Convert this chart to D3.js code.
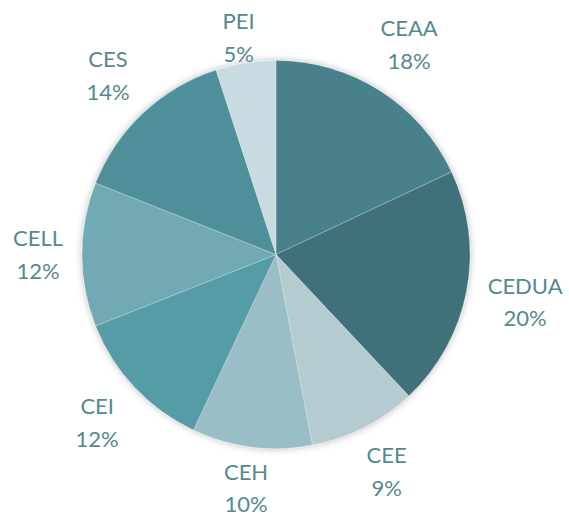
<!DOCTYPE html>
<html>
<head>
<meta charset="utf-8">
<script src="https://cdn.jsdelivr.net/npm/d3@7"></script>
<style>
  html, body { margin: 0; padding: 0; background: #fff; }
  svg { display: block; }
</style>
</head>
<body>
<svg id="chart" width="569" height="519"></svg>
<script>
const categories = ["CEAA", "CEDUA", "CEE", "CEH", "CEI", "CELL", "CES", "PEI"];
const values = [18, 20, 9, 10, 12, 12, 14, 5];
const colors = ["#48818b", "#3f707a", "#b4cbd0", "#9abec5", "#569ca7", "#71aab5", "#4f8f99", "#c8dbe0"];

const W = 569, H = 519;
const cx = 276, cy = 254.5, R = 194;
const labelGap = 19;
const lineH = 32.5;
const capH = 16;
const textColor = "#54898f";

const svg = d3.select("#chart");
const defs = svg.append("defs");
const f = defs.append("filter").attr("id", "sh").attr("x", "-20%").attr("y", "-20%").attr("width", "140%").attr("height", "140%");
f.append("feDropShadow").attr("dx", 0).attr("dy", 0).attr("stdDeviation", 3.5)
  .attr("flood-color", "#000").attr("flood-opacity", 0.28);

const data = categories.map((c, i) => ({ name: c, value: values[i], color: colors[i] }));
const total = d3.sum(values);
const pie = d3.pie().value(d => d.value).sort(null);
const arcs = pie(data);
const arc = d3.arc().innerRadius(0).outerRadius(R);

const g = svg.append("g").attr("transform", `translate(${cx},${cy})`);
g.append("g").attr("filter", "url(#sh)")
  .selectAll("path").data(arcs).join("path")
  .attr("d", arc)
  .attr("fill", d => d.data.color)
  .attr("stroke", "#ffffff")
  .attr("stroke-width", 0.4)
  .attr("stroke-opacity", 0.6);

const lg = svg.append("g")
  .attr("font-family", "Lato, 'Open Sans', sans-serif")
  .attr("font-size", 22)
  .attr("fill", textColor)
  .attr("text-anchor", "middle");

arcs.forEach(a => {
  const t = lg.append("text");
  const t1 = t.append("tspan").text(a.data.name);
  const t2 = t.append("tspan").text(Math.round(a.data.value / total * 100) + "%");
  const w = Math.max(t1.node().getComputedTextLength(), t2.node().getComputedTextLength()) / 2;
  const h = (capH + lineH) / 2;
  const mid = (a.startAngle + a.endAngle) / 2;
  const ux = Math.sin(mid), uy = -Math.cos(mid);
  const nearest = s => {
    const px = Math.abs(ux * s), py = Math.abs(uy * s);
    const dx = Math.max(0, px - w), dy = Math.max(0, py - h);
    return Math.hypot(dx, dy);
  };
  let lo = 0, hi = 600;
  for (let k = 0; k < 60; k++) {
    const m = (lo + hi) / 2;
    if (nearest(m) < R + labelGap) lo = m; else hi = m;
  }
  let lx = cx + ux * lo, ly = cy + uy * lo;
  // keep the label block inside the chart area
  let y1 = ly - h + capH;
  y1 = Math.max(y1, 13 + capH);
  y1 = Math.min(y1, H - 7 - lineH);
  lx = Math.max(lx, w + 4);
  lx = Math.min(lx, W - w - 4);
  t1.attr("x", lx).attr("y", y1);
  t2.attr("x", lx).attr("y", y1 + lineH);
});
</script>
</body>
</html>
